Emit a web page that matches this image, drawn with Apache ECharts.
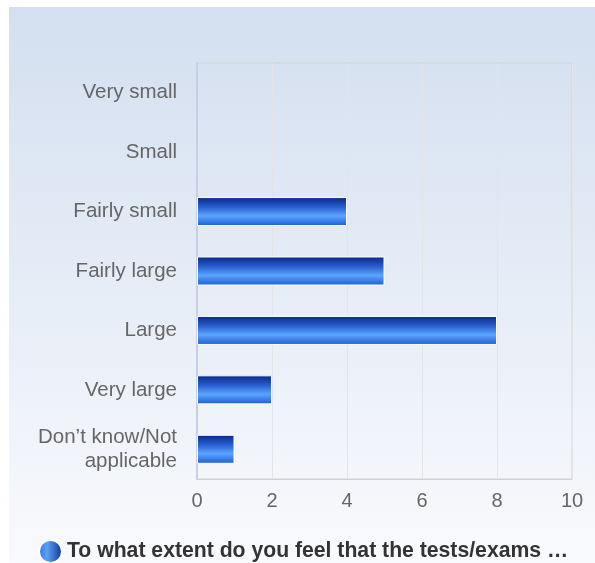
<!DOCTYPE html>
<html>
<head>
<meta charset="utf-8">
<script src="https://cdn.jsdelivr.net/npm/echarts@6/dist/echarts.min.js"></script>
<style>html,body{margin:0;padding:0;background:#fff}#c{width:595px;height:563px}</style>
</head>
<body>
<div id="c"></div>
<script>
const categories = ["Very small", "Small", "Fairly small", "Fairly large", "Large", "Very large", "Don\u2019t know/Not\napplicable"];
const values = [0, 0, 4, 5, 8, 2, 1];
const seriesName = "To what extent do you feel that the tests/exams \u2026";
const xTicks = [0, 2, 4, 6, 8, 10];

const chart = echarts.init(document.getElementById('c'), null, {renderer: 'canvas'});
const barGrad = new echarts.graphic.LinearGradient(0, 0, 0, 1, [
  {offset: 0, color: '#082785'},
  {offset: 0.35, color: '#2a5fd0'},
  {offset: 0.65, color: '#5ba4ff'},
  {offset: 1, color: '#1b5cd2'}
]);
const iconGrad = new echarts.graphic.LinearGradient(0, 0, 1, 0, [
  {offset: 0, color: '#2c6fe0'},
  {offset: 0.35, color: '#5ba2f5'},
  {offset: 1, color: '#0b2f94'}
]);
chart.setOption({
  animation: false,
  textStyle: {fontFamily: 'Liberation Sans, Arial, sans-serif'},
  graphic: [{
    type: 'rect', z: -10, silent: true,
    shape: {x: 9, y: 7, width: 586, height: 556},
    style: {fill: new echarts.graphic.LinearGradient(0, 0, 0, 1, [
      {offset: 0, color: '#d3dff0'},
      {offset: 1, color: '#f9fafd'}
    ])}
  }],
  grid: {left: 197, right: 23, top: 63, bottom: 84, show: true, borderColor: '#d2d2d2', borderWidth: 1, backgroundColor: 'transparent'},
  xAxis: {
    type: 'value', min: 0, max: 10, interval: 2,
    axisLine: {show: true, lineStyle: {color: '#d0d0d0'}},
    axisTick: {show: false},
    splitLine: {show: true, lineStyle: {color: '#e2e4e8'}},
    axisLabel: {color: '#666', fontSize: 20, margin: 12,
      formatter: v => xTicks.includes(v) ? String(v) : ''}
  },
  yAxis: {
    type: 'category', inverse: true, data: categories,
    axisLine: {show: true, lineStyle: {color: '#c5d0e6', width: 2}},
    axisTick: {show: false},
    axisLabel: {color: '#666', fontSize: 20.5, margin: 20, lineHeight: 24, align: 'right'}
  },
  legend: {
    left: 38, top: 539, padding: 0, itemWidth: 23, itemHeight: 23, itemGap: 5, icon: 'circle',
    textStyle: {fontSize: 21.2, fontWeight: 'bold', color: '#333', padding: [2, 0, 0, 0]},
    data: [{name: seriesName, itemStyle: {color: iconGrad}}]
  },
  series: [{
    name: seriesName, type: 'bar', barWidth: 29,
    data: values.map(v => v === 0 ? {value: v, itemStyle: {borderWidth: 0}} : v),
    itemStyle: {color: barGrad, borderColor: '#ffffff', borderWidth: 1}
  }]
});
</script>
</body>
</html>
